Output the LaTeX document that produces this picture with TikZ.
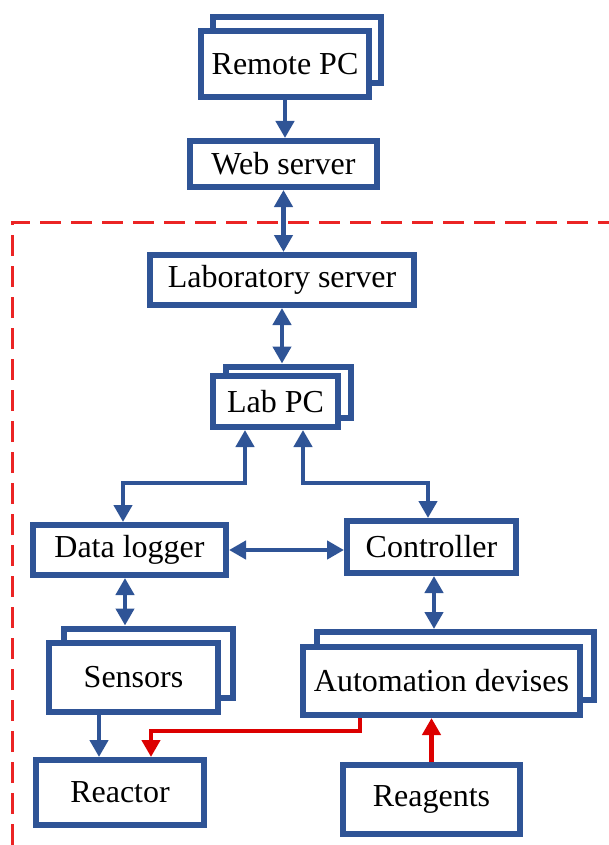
\documentclass[tikz,border=0pt]{standalone}
\usepackage{fontspec}
\setmainfont{Liberation Serif}
\usetikzlibrary{arrows.meta}
\definecolor{boxblue}{RGB}{47,84,150}
\definecolor{linkred}{RGB}{220,0,0}
\definecolor{zonered}{RGB}{235,36,36}
\begin{document}
\begin{tikzpicture}[x=1pt,y=-1pt,
  unit box/.style={draw=boxblue, line width=6pt, fill=white, inner sep=0pt,
    font=\fontsize{32}{38}\selectfont, text=black},
  link/.style={draw=boxblue, line width=4.5pt, -{Triangle[length=17pt,width=18pt]}},
  duplex/.style={draw=boxblue, line width=4.5pt, {Triangle[length=17pt,width=18pt]}-{Triangle[length=17pt,width=18pt]}},
  redlink/.style={draw=linkred, line width=4.5pt, -{Triangle[length=17pt,width=18pt]}},
  zone/.style={draw=zonered, line width=3pt, dash pattern=on 21pt off 10pt}]
\useasboundingbox (0,0) rectangle (609,845);

% boundary of the laboratory side
\draw[zone] (12,845) -- (12,222) -- (609,222);

% remote side
\node[unit box, minimum width=168pt, minimum height=66pt] (remoteback) at (296.5,50.5) {};
\node[unit box, minimum width=168pt, minimum height=66pt] (remote) at (285,64) {Remote PC};
\node[unit box, minimum width=187pt, minimum height=46pt] (web) at (283.5,164) {Web server};

% laboratory side
\node[unit box, minimum width=264pt, minimum height=50pt] (labserver) at (282,280) {Laboratory server};
\node[unit box, minimum width=125pt, minimum height=51pt] (labpcback) at (288.5,392) {};
\node[unit box, minimum width=125pt, minimum height=51pt] (labpc) at (275.5,401.5) {Lab PC};
\node[unit box, minimum width=193pt, minimum height=50pt] (datalogger) at (129.5,550) {Data logger};
\node[unit box, minimum width=169pt, minimum height=52pt] (controller) at (431.5,547) {Controller};
\node[unit box, minimum width=169pt, minimum height=69pt] (sensorsback) at (148,663) {};
\node[unit box, minimum width=169pt, minimum height=69pt] (sensors) at (133.5,677.5) {Sensors};
\node[unit box, minimum width=277pt, minimum height=68pt] (automationback) at (455.5,666) {};
\node[unit box, minimum width=277pt, minimum height=68pt] (automation) at (441.5,681) {Automation devises};
\node[unit box, minimum width=168pt, minimum height=65pt] (reactor) at (120,792.5) {Reactor};
\node[unit box, minimum width=177pt, minimum height=69pt] (reagents) at (431.5,799.5) {Reagents};

% helper points for the connectors
\coordinate (fork) at (0,483);
\coordinate (feed) at (0,731);
\coordinate (lpL) at ([xshift=-30.5pt]labpc.south);
\coordinate (lpR) at ([xshift=27.5pt]labpc.south);
\coordinate (dlTop) at ([xshift=-6.5pt]datalogger.north);
\coordinate (ctTop) at ([xshift=-3.5pt]controller.north);
\coordinate (dlBot) at ([xshift=-4.5pt]datalogger.south);
\coordinate (ctBot) at ([xshift=2.5pt]controller.south);
\coordinate (snBot) at ([xshift=-34.5pt]sensors.south);
\coordinate (adBot) at ([xshift=-81.5pt]automation.south);
\coordinate (rcTop) at ([xshift=31pt]reactor.north);

% connectors
\draw[link] (remote.south) -- (remote.south |- web.north);
\draw[duplex] (web.south) -- (web.south |- labserver.north);
\draw[duplex] (labserver.south) -- (labserver.south |- labpcback.north);
\draw[duplex] (lpL) -- (lpL |- fork) -| (dlTop);
\draw[duplex] (lpR) -- (lpR |- fork) -| (ctTop);
\draw[duplex] (datalogger.east) -- (datalogger.east -| controller.west);
\draw[duplex] (dlBot) -- (dlBot |- sensorsback.north);
\draw[duplex] (ctBot) -- (ctBot |- automationback.north);
\draw[link] (snBot) -- (snBot |- reactor.north);
\draw[redlink] (adBot) -- (adBot |- feed) -| (rcTop);
\draw[redlink] (reagents.north) -- (reagents.north |- automation.south);
\end{tikzpicture}
\end{document}
